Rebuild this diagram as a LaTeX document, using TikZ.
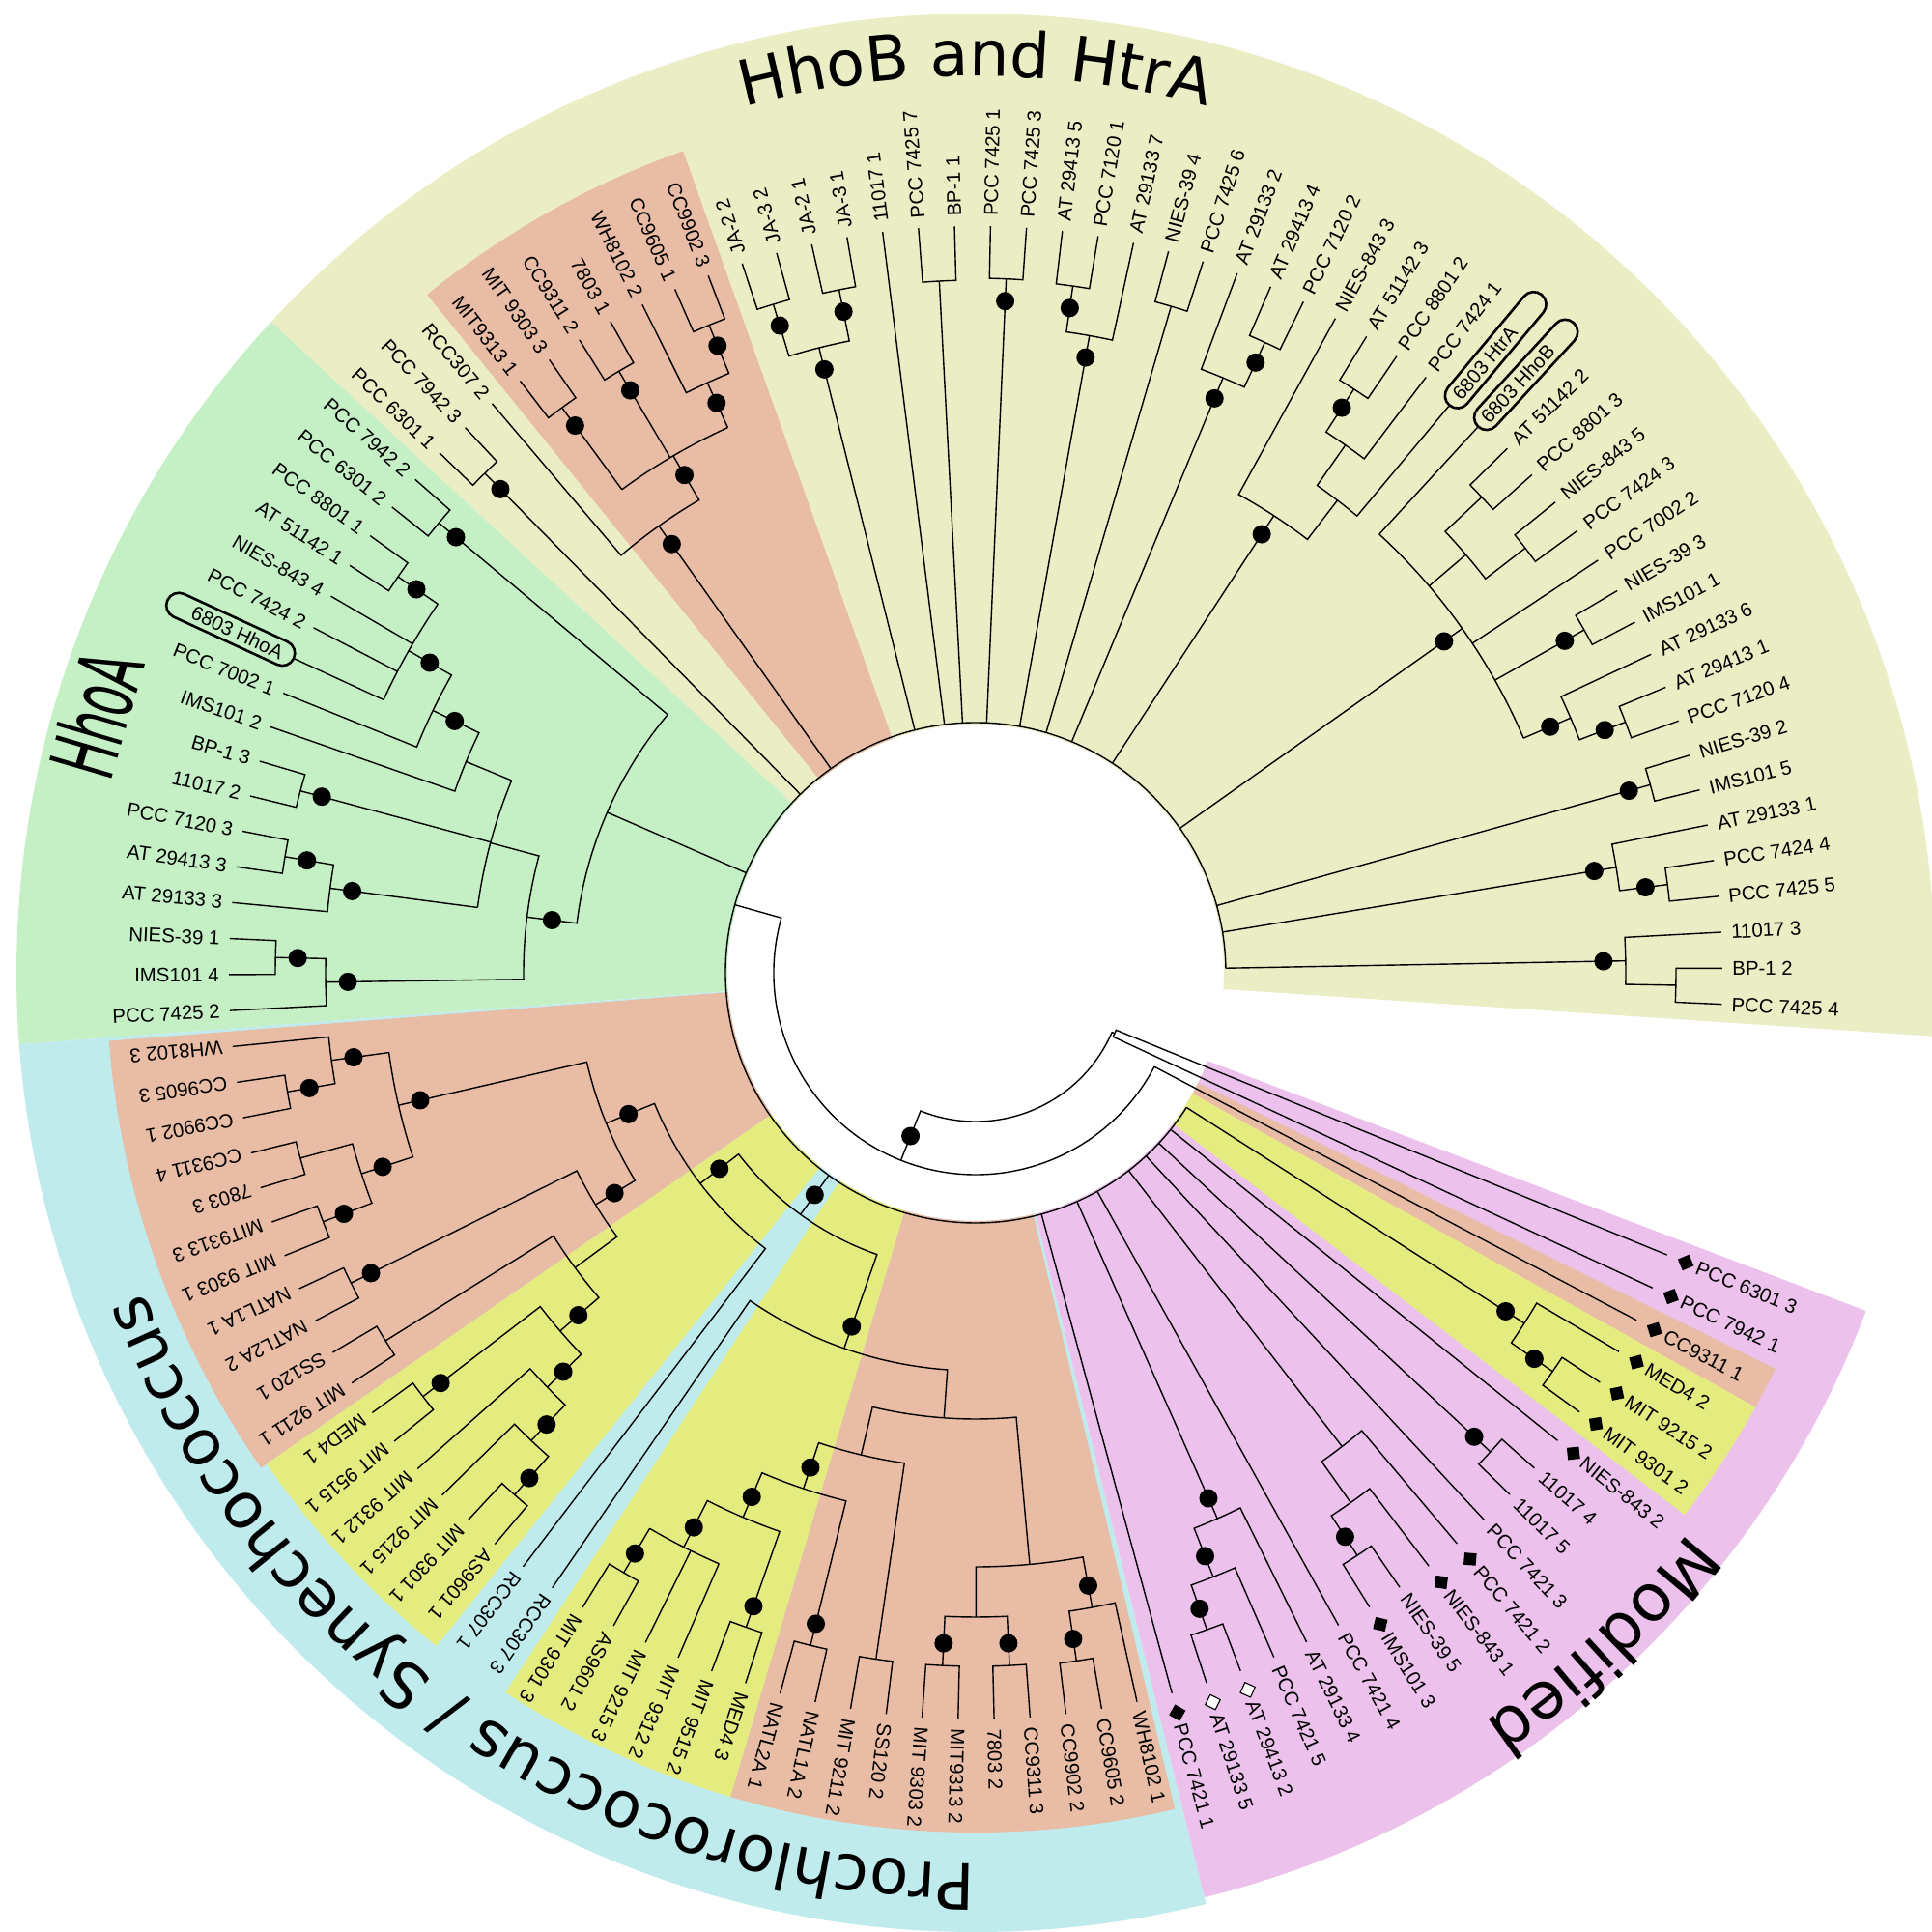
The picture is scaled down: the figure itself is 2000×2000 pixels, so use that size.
\documentclass[tikz,border=0pt]{standalone}
\usepackage{fontspec}
\setmainfont{Liberation Sans}
\newfontfamily\gfont{DejaVu Sans}
\usetikzlibrary{decorations.text}
\definecolor{cHtr}{RGB}{235,237,197}
\definecolor{cHhoA}{RGB}{197,239,197}
\definecolor{cPS}{RGB}{192,235,237}
\definecolor{cMod}{RGB}{236,194,236}
\definecolor{cSyn}{RGB}{232,188,165}
\definecolor{cPro}{RGB}{228,236,128}
\newcommand\TBin[7]{\coordinate (#1) at (#2:#3); \draw[br] (#4) -- (#5:#3) arc[start angle=#5,end angle=#7,radius=#3] -- (#6);}
\newcommand\TDot[2]{\fill (#1:#2) circle[radius=9.5];}
\newcommand\TEdge[3]{\draw[br] (#1) -- (#2:#3);}
\newcommand\TArc[3]{\draw[br] (#2:#1) arc[start angle=#2,end angle=#3,radius=#1];}
\newcommand\TSec[5]{\fill[#1] (#2:#4) arc[start angle=#2,end angle=#3,radius=#4] -- (#3:#5) arc[start angle=#3,end angle=#2,radius=#5] -- cycle;}
\begin{document}
\begin{tikzpicture}[x=0.5pt,y=0.5pt,
  br/.style={line width=0.7pt},
  lab/.style={inner sep=0pt,font=\fontsize{10.2}{12}\selectfont,text height=7.3pt,text depth=0pt},
  dia/.style={fill=black,inner sep=0pt,minimum size=6.3pt,shape=rectangle},
  dio/.style={draw=black,fill=white,line width=0.55pt,inner sep=0pt,minimum size=5.8pt,shape=rectangle},
  box/.style={draw=black,line width=1.3pt,rounded corners=6.5pt,minimum height=13pt,inner sep=0pt}]
\useasboundingbox (-1010,-993) rectangle (990,1007);
\fill[white] (-1010,-993) rectangle (990,1007);
% ---------- background sectors
\TSec{cHtr}{-3.79}{137.27}{257}{993}
\TSec{cHhoA}{137.27}{184.28}{257}{993}
\TSec{cPS}{184.28}{283.9}{257}{993}
\TSec{cMod}{283.9}{339.2}{257}{986}
\TSec{cSyn}{109.6}{128.97}{257}{903}
\TSec{cSyn}{184.5}{214.71}{257}{900}
\TSec{cPro}{214.71}{231.31}{257}{893}
\TSec{cPro}{236.84}{253.435}{257}{890}
\TSec{cSyn}{253.435}{283.4}{257}{890}
\TSec{cSyn}{-29.115}{-26.35}{257}{924}
\TSec{cPro}{-37.4}{-29.115}{257}{924}
% ---------- group labels
\path[decorate,decoration={text along path,text align=center,text={|\gfont\fontsize{32.5}{32.5}\selectfont|HhoB and HtrA}}] (150:928) arc[start angle=150,end angle=30,radius=928];
\node[font=\gfont\fontsize{46}{46}\selectfont,inner sep=0pt,anchor=base,rotate=73.6,xscale=0.52] (gHhoA) at (163.6:915) {HhoA};
\path[decorate,decoration={text along path,text align=center,text={|\gfont\fontsize{33}{33}\selectfont|Prochlorococcus / Synechococcus}}] (-79.5:922) arc[start angle=-79.5,end angle=-169.5,radius=922];
\path[decorate,decoration={text along path,text align=center,text={|\gfont\fontsize{34}{34}\selectfont|Modified}}] (-20:938) arc[start angle=-20,end angle=-74,radius=938];
% ---------- leaf tips
\foreach \i in {1,...,124}{\pgfmathsetmacro\a{-22.2-(\i-1)*2.766}\coordinate (L\i) at (\a:773);}
\coordinate (L67) at (155.25:776);
\coordinate (L105) at (50.14:764);
\coordinate (L106) at (47.38:767);
% ---------- HhoB / HtrA clade
\TBin{N123}{-1.025}{725}{L123}{0.36}{L124}{-2.41}
\TBin{N122}{1.05}{673}{L122}{3.12}{N123}{-1.025} \TDot{1.05}{650}
\TBin{N120}{7.27}{722}{L120}{8.65}{L121}{5.89} \TDot{7.27}{699}
\TBin{N119}{9.345}{672}{L119}{11.42}{N120}{7.27} \TDot{9.345}{649}
\TBin{N117}{15.57}{725}{L117}{16.95}{L118}{14.19} \TDot{15.57}{702}
\TBin{Ns}{29.40}{723}{L112}{30.78}{L113}{28.02} \TDot{29.40}{700}
\TBin{Nr}{21.10}{721}{L115}{22.48}{L116}{19.72} \TDot{21.10}{698}
\TBin{Nq}{23.185}{670}{L114}{25.25}{Nr}{21.10} \TDot{23.185}{647}
\TBin{N107}{43.225}{719}{L107}{44.61}{L108}{41.84}
\TBin{N109}{37.695}{719}{L109}{39.08}{L110}{36.31}
\TBin{Np}{40.46}{667}{N107}{43.225}{N109}{37.695}
\coordinate (Nhb) at (35.28:617);
\TArc{617}{23.185}{47.38}
\TEdge{L106}{47.38}{617} \TEdge{Np}{40.46}{617} \TEdge{L111}{33.55}{617} \TEdge{Ns}{29.40}{617} \TEdge{Nq}{23.185}{617}
\TDot{35.28}{594}
\TBin{N102}{57.055}{720}{L102}{58.44}{L103}{55.67} \TDot{57.055}{697}
\TBin{Nht3}{54.98}{667}{N102}{57.055}{L104}{52.91}
\TBin{Nht2}{52.56}{616}{Nht3}{54.98}{L105}{50.14}
\TBin{Nht}{56.88}{565}{L101}{61.20}{Nht2}{52.56} \TDot{56.88}{542}
\TBin{N99}{65.355}{718}{L99}{66.74}{L100}{63.97} \TDot{65.355}{695}
\TBin{N98}{67.42}{667}{L98}{69.50}{N99}{65.355} \TDot{67.42}{644}
\TBin{N96}{73.65}{719}{L96}{75.03}{L97}{72.27}
\TBin{N93}{81.945}{718}{L93}{83.33}{L94}{80.56} \TDot{81.945}{695}
\TBin{N95}{79.87}{670}{N93}{81.945}{L95}{77.80} \TDot{79.87}{647}
\TBin{N91}{87.48}{719}{L91}{88.86}{L92}{86.10} \TDot{87.48}{696}
\TBin{N89}{93.01}{717}{L89}{94.39}{L90}{91.63}
\TBin{N84}{106.84}{723}{L84}{108.22}{L85}{105.46} \TDot{106.84}{700}
\TBin{N86}{101.31}{721}{L86}{102.69}{L87}{99.93} \TDot{101.31}{698}
\TBin{NJA}{104.075}{667}{N84}{106.84}{N86}{101.31} \TDot{104.075}{644}
\TBin{H1}{126.205}{725}{L77}{127.59}{L78}{124.82} \TDot{126.205}{702}
\TBin{H2}{120.67}{724}{L79}{122.05}{L80}{119.29} \TDot{120.67}{701}
\TBin{H6}{112.375}{725}{L82}{113.76}{L83}{110.99} \TDot{112.375}{702}
\TBin{H5}{114.45}{671}{L81}{116.52}{H6}{112.375} \TDot{114.45}{648}
\coordinate (H4) at (120.33:620);
\TArc{620}{114.45}{126.205} \TEdge{H1}{126.205}{620} \TEdge{H2}{120.67}{620} \TEdge{H5}{114.45}{620} \TDot{120.33}{597}
\TBin{No3}{125.34}{567}{L76}{130.35}{H4}{120.33} \TDot{125.34}{544}
\TBin{N74}{134.5}{725}{L74}{135.88}{L75}{133.12} \TDot{134.5}{702}
% ---------- HhoA clade
\TBin{n7}{140.035}{725}{L72}{141.42}{L73}{138.65} \TDot{140.035}{702}
\TBin{n1a}{145.565}{725}{L70}{146.95}{L71}{144.18} \TDot{145.565}{702}
\coordinate (n1) at (150.41:675);
\TArc{675}{145.565}{155.25} \TEdge{n1a}{145.565}{675} \TEdge{L69}{149.71}{675} \TEdge{L68}{152.48}{675} \TEdge{L67}{155.25}{675} \TDot{150.41}{650}
\TBin{n2}{154.21}{624}{n1}{150.41}{L66}{158.01} \TDot{154.21}{599}
\TBin{n3}{157.495}{571}{n2}{154.21}{L65}{160.78}
\TBin{nBP}{164.925}{724}{L63}{166.31}{L64}{163.54} \TDot{164.925}{701}
\TBin{nAT1}{170.46}{725}{L61}{171.84}{L62}{169.08} \TDot{170.46}{702}
\TBin{nAT}{172.535}{674}{L60}{174.61}{nAT1}{170.46} \TDot{172.535}{651}
\coordinate (n4) at (165.015:520);
\TArc{520}{157.495}{172.535} \TEdge{n3}{157.495}{520} \TEdge{nBP}{164.925}{520} \TEdge{nAT}{172.535}{520}
\TBin{n6a}{178.755}{725}{L58}{180.14}{L59}{177.37} \TDot{178.755}{702}
\TBin{n6}{180.83}{673}{L57}{182.90}{n6a}{178.755} \TDot{180.83}{650}
\TBin{n5}{172.92}{468}{n4}{165.015}{n6}{180.83} \TDot{172.92}{442}
\TBin{Nw}{156.48}{416}{n5}{172.92}{n7}{140.035}
% ---------- Prochlorococcus / Synechococcus clade
\TBin{O1}{-170.18}{723}{L55}{-171.56}{L54}{-168.80} \TDot{-170.18}{700}
\TBin{O2}{-172.255}{673}{L56}{-174.33}{O1}{-170.18} \TDot{-172.255}{650}
\TBin{O3}{-164.65}{725}{L53}{-166.03}{L52}{-163.27}
\TBin{N51}{-159.115}{723}{L51}{-160.50}{L50}{-157.73} \TDot{-159.115}{700}
\TBin{O4}{-161.88}{669}{O3}{-164.65}{N51}{-159.115} \TDot{-161.88}{646}
\TBin{O5}{-167.07}{613}{O2}{-172.255}{O4}{-161.88} \TDot{-167.07}{590}
\TBin{N49}{-153.585}{722}{L49}{-154.97}{L48}{-152.20} \TDot{-153.585}{699}
\TBin{N47}{-148.055}{720}{L47}{-149.44}{L46}{-146.67}
\TBin{Y4}{-142.52}{721}{L45}{-143.90}{L44}{-141.14} \TDot{-142.52}{698}
\TBin{Y1}{-131.455}{721}{L41}{-132.84}{L40}{-130.07} \TDot{-131.455}{698}
\TBin{Y2}{-133.53}{668}{L42}{-135.61}{Y1}{-131.455} \TDot{-133.53}{645}
\TBin{Y3}{-135.95}{617}{L43}{-138.37}{Y2}{-133.53} \TDot{-135.95}{594}
\TBin{Y5}{-139.235}{568}{Y4}{-142.52}{Y3}{-135.95} \TDot{-139.235}{543}
\TBin{Y6}{-143.645}{515}{N47}{-148.055}{Y5}{-139.235}
\TBin{S2}{-148.615}{461}{N49}{-153.585}{Y6}{-143.645} \TDot{-148.615}{438}
\TBin{S1}{-157.84}{413}{O5}{-167.07}{S2}{-148.615} \TDot{-157.84}{388}
\TBin{P2}{-142.58}{359}{S1}{-157.84}{L39}{-127.31} \TDot{-142.58}{334}
\TBin{N22}{-81.67}{720}{L23}{-83.05}{L22}{-80.29} \TDot{-81.67}{697}
\TBin{P9}{-79.595}{668}{N22}{-81.67}{L21}{-77.52} \TDot{-79.595}{645}
\TBin{N24}{-87.2}{718}{L25}{-88.58}{L24}{-85.82} \TDot{-87.2}{695}
\TBin{N26}{-92.735}{718}{L27}{-94.12}{L26}{-91.35} \TDot{-92.735}{695}
\TBin{P8}{-89.97}{667}{N26}{-92.735}{N24}{-87.2}
\TBin{P7}{-84.78}{615}{P8}{-89.97}{P9}{-79.595}
\TBin{N29}{-98.265}{718}{L29}{-99.65}{L28}{-96.88}
\TBin{N31}{-103.795}{717}{L31}{-105.18}{L30}{-102.41} \TDot{-103.795}{694}
\TBin{N33}{-109.33}{718}{L33}{-110.71}{L32}{-107.95} \TDot{-109.33}{695}
\TBin{Q1}{-120.395}{720}{L37}{-121.78}{L36}{-119.01} \TDot{-120.395}{697}
\coordinate (Q3) at (-116.94:667);
\TArc{667}{-120.395}{-113.48} \TEdge{Q1}{-120.395}{667} \TEdge{L35}{-116.24}{667} \TEdge{L34}{-113.48}{667} \TDot{-116.94}{644}
\TBin{Q4}{-113.135}{613}{Q3}{-116.94}{N33}{-109.33} \TDot{-113.135}{590}
\TBin{P6}{-108.465}{563}{Q4}{-113.135}{N31}{-103.795} \TDot{-108.465}{540}
\TBin{P5}{-103.365}{513}{P6}{-108.465}{N29}{-98.265}
\TBin{P4}{-94.07}{462}{P5}{-103.365}{P7}{-84.78}
\TBin{P3}{-109.305}{412}{L38}{-124.54}{P4}{-94.07} \TDot{-109.305}{388}
\TBin{P1}{-125.94}{309}{P2}{-142.58}{P3}{-109.305} \TDot{-125.94}{284}
% ---------- Modified
\TBin{Nh}{-34.645}{726}{L5}{-33.26}{L6}{-36.03} \TDot{-34.645}{703}
\TBin{Ng}{-32.57}{674}{L4}{-30.50}{Nh}{-34.645} \TDot{-32.57}{651}
\TBin{N8}{-42.945}{728}{L8}{-41.56}{L9}{-44.33} \TDot{-42.945}{705}
\TBin{Nc}{-56.775}{721}{L13}{-55.39}{L14}{-58.16} \TDot{-56.775}{698}
\TBin{Nb}{-54.705}{672}{L12}{-52.63}{Nc}{-56.775}
\TBin{Na}{-52.28}{620}{L11}{-49.86}{Nb}{-54.705}
\TBin{Nd}{-70.605}{721}{L18}{-69.22}{L19}{-71.99} \TDot{-70.605}{698}
\TBin{Ne}{-68.53}{672}{L17}{-66.46}{Nd}{-70.605} \TDot{-68.53}{649}
\TBin{Nf}{-66.11}{618}{L16}{-63.69}{Ne}{-68.53} \TDot{-66.11}{595}
% ---------- central nodes
\coordinate (HH) at (164.24:259);
\TArc{259}{1.05}{327.43}
\foreach \c/\t in {N122/1.05,N119/9.345,N117/15.57,Nhb/35.28,Nht/56.88,N98/67.42,N96/73.65,N95/79.87,N91/87.48,N89/93.01,L88/97.16,NJA/104.075,No3/125.34,N74/134.5,Nw/156.48,P1/-125.94,L20/-74.75,Nf/-66.11,L15/-60.92,Na/-52.28,L10/-47.09,N8/-42.945,L7/-38.80,Ng/-32.57}
  {\TEdge{\c}{\t}{259}}
\coordinate (B) at (-111.745:209);
\TArc{209}{-195.76}{-27.73}
\TEdge{HH}{164.24}{209} \TEdge{L3}{-27.73}{209}
\TDot{-111.745}{182}
\TBin{C12}{-23.585}{157}{L1}{-22.2}{L2}{-24.97}
\TBin{R2}{-67.67}{154}{B}{-111.745}{C12}{-23.585}
% ---------- labels
\foreach \i/\t in {8/11017 4,9/11017 5,10/PCC 7421 3,13/NIES-39 5,15/PCC 7421 4,16/AT 29133 4,17/PCC 7421 5,
 21/WH8102 1,22/CC9605 2,23/CC9902 2,24/CC9311 3,25/7803 2,26/MIT9313 2,27/MIT 9303 2,28/SS120 2,29/MIT 9211 2,30/NATL1A 2,31/NATL2A 1,
 32/MED4 3,33/MIT 9515 2,34/MIT 9312 2,35/MIT 9215 3,36/AS9601 2,37/MIT 9301 3,38/RCC307 3,39/RCC307 1,
 40/AS9601 1,41/MIT 9301 1,42/MIT 9215 1,43/MIT 9312 1,44/MIT 9515 1,45/MED4 1,
 46/MIT 9211 1,47/SS120 1,48/NATL2A 2,49/NATL1A 1,50/MIT 9303 1,51/MIT9313 3,52/7803 3,53/CC9311 4,54/CC9902 1,55/CC9605 3,56/WH8102 3,
 84/JA-2 2,85/JA-3 2,86/JA-2 1,87/JA-3 1,88/11017 1,89/PCC 7425 7,90/BP-1 1,91/PCC 7425 1,92/PCC 7425 3,93/AT 29413 5,94/PCC 7120 1,
 95/AT 29133 7,96/NIES-39 4,97/PCC 7425 6,98/AT 29133 2,99/AT 29413 4,100/PCC 7120 2,101/NIES-843 3,102/AT 51142 3,103/PCC 8801 2,104/PCC 7424 1,
 107/AT 51142 2,108/PCC 8801 3,109/NIES-843 5,110/PCC 7424 3,111/PCC 7002 2,112/NIES-39 3,113/IMS101 1,114/AT 29133 6,115/AT 29413 1,
 116/PCC 7120 4,117/NIES-39 2,118/IMS101 5,119/AT 29133 1,120/PCC 7424 4,121/PCC 7425 5,122/11017 3,123/BP-1 2,124/PCC 7425 4}
 {\pgfmathsetmacro\a{-22.2-(\i-1)*2.766}\node[lab,anchor=west,rotate=\a] (T\i) at (\a:783) {\t};}
\foreach \i/\t in {57/PCC 7425 2,58/IMS101 4,59/NIES-39 1,60/AT 29133 3,61/AT 29413 3,62/PCC 7120 3,63/11017 2,64/BP-1 3,65/IMS101 2,66/PCC 7002 1,
 68/PCC 7424 2,69/NIES-843 4,70/AT 51142 1,71/PCC 8801 1,72/PCC 6301 2,73/PCC 7942 2,74/PCC 6301 1,75/PCC 7942 3,76/RCC307 2,
 77/MIT9313 1,78/MIT 9303 3,79/CC9311 2,80/7803 1,81/WH8102 2,82/CC9605 1,83/CC9902 3}
 {\pgfmathsetmacro\a{-22.2-(\i-1)*2.766}\node[lab,anchor=east,rotate=\a+180] (T\i) at (\a:783) {\t};}
\foreach \i/\t in {1/PCC 6301 3,2/PCC 7942 1,3/CC9311 1,4/MED4 2,5/MIT 9215 2,6/MIT 9301 2,7/NIES-843 2,11/PCC 7421 2,12/NIES-843 1,14/IMS101 3,20/PCC 7421 1}
 {\pgfmathsetmacro\a{-22.2-(\i-1)*2.766}\node[dia,rotate=\a+45] (D\i) at (\a:794) {};\node[lab,anchor=west,rotate=\a] (T\i) at (\a:806) {\t};}
\foreach \i/\t in {18/AT 29413 2,19/AT 29133 5}
 {\pgfmathsetmacro\a{-22.2-(\i-1)*2.766}\node[dio,rotate=\a+45] (D\i) at (\a:794) {};\node[lab,anchor=west,rotate=\a] (T\i) at (\a:806) {\t};}
% boxed labels
\node[box,minimum width=72pt,anchor=east,rotate=335.25] (B67) at (155.25:776) {};
\node[lab,anchor=east,rotate=335.25] (T67) at (155.25:790) {6803 HhoA};
\node[box,minimum width=74.5pt,anchor=west,rotate=50.14] (B105) at (50.14:764) {};
\node[lab,anchor=west,rotate=50.14] (T105) at (50.14:776) {6803 HtrA};
\node[box,minimum width=73pt,anchor=west,rotate=47.38] (B106) at (47.38:767) {};
\node[lab,anchor=west,rotate=47.38] (T106) at (47.38:777) {6803 HhoB};
\end{tikzpicture}
\end{document}
